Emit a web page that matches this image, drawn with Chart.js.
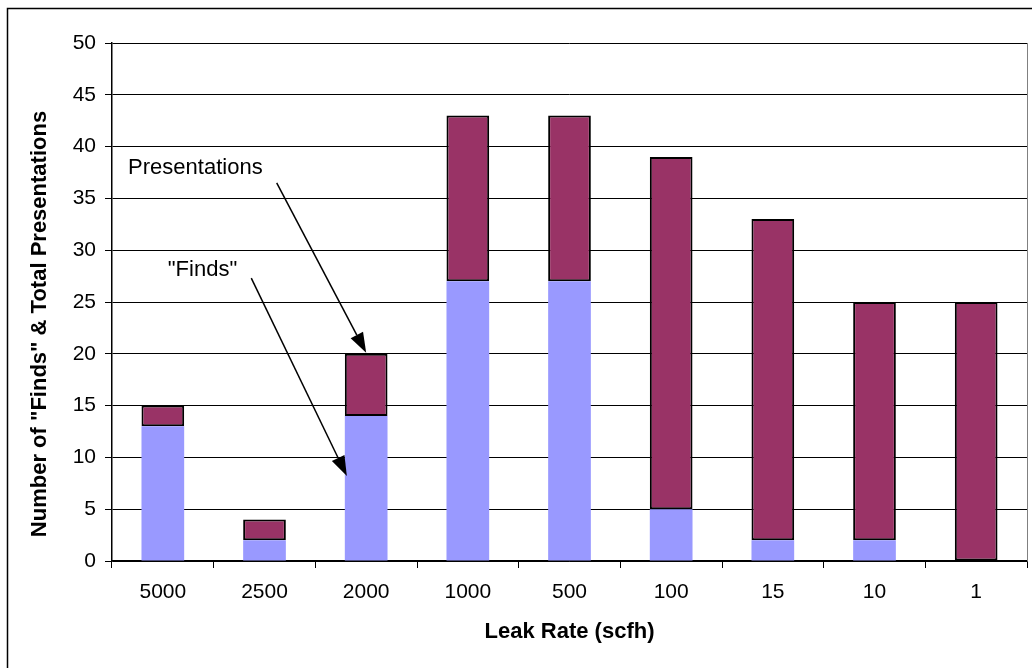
<!DOCTYPE html>
<html>
<head>
<meta charset="utf-8">
<script src="https://cdn.jsdelivr.net/npm/chart.js@4"></script>
<style>
    html, body { margin: 0; padding: 0; background: #fff; }
    #wrap { width: 1032px; height: 668px; position: relative; }
</style>
</head>
<body>
<div id="wrap"><canvas id="leakChart"></canvas></div>
<script>
const leakRates = ['5000', '2500', '2000', '1000', '500', '100', '15', '10', '1'];
const finds = [13, 2, 14, 27, 27, 5, 2, 2, 0];
const totalPresentations = [15, 4, 20, 43, 43, 39, 33, 25, 25];
const yTicks = [0, 5, 10, 15, 20, 25, 30, 35, 40, 45, 50];

// callouts in data units: [label, textX, textY, arrowFromX, arrowFromY, arrowToX, arrowToY]
const calloutPresentations = ['Presentations', 0.32, 37.9, 1.12, 36.5, 2.0, 20.1];
const calloutFinds = ['"Finds"', 0.39, 28.1, 0.87, 27.3, 1.81, 8.2];

const FONT = '"Liberation Sans", Arial, sans-serif';

// maroon part sits on top of the finds
const presentationsOnly = totalPresentations.map((t, i) => t - finds[i]);

function drawArrow(ctx, x1, y1, x2, y2) {
    const ang = Math.atan2(y2 - y1, x2 - x1);
    const headLen = 20, headW = 7;
    const bx = x2 - headLen * Math.cos(ang), by = y2 - headLen * Math.sin(ang);
    ctx.beginPath();
    ctx.moveTo(x1, y1);
    ctx.lineTo(bx, by);
    ctx.stroke();
    ctx.beginPath();
    ctx.moveTo(x2, y2);
    ctx.lineTo(bx + headW * Math.sin(ang), by - headW * Math.cos(ang));
    ctx.lineTo(bx - headW * Math.sin(ang), by + headW * Math.cos(ang));
    ctx.closePath();
    ctx.fill();
}

const decorPlugin = {
    id: 'decor',
    afterDraw(chart) {
        const { ctx, chartArea: a, scales: { x, y } } = chart;
        ctx.save();

        // outer frame (only top and left are inside the picture)
        ctx.strokeStyle = '#000';
        ctx.lineWidth = 1.5;
        ctx.strokeRect(7.5, 8.5, chart.width + 40, chart.height + 40);

        // grey right edge of plot
        ctx.strokeStyle = '#808080';
        ctx.lineWidth = 1;
        ctx.beginPath();
        ctx.moveTo(a.right + 0.5, a.top);
        ctx.lineTo(a.right + 0.5, a.bottom);
        ctx.stroke();

        // axis titles
        ctx.fillStyle = '#000';
        ctx.strokeStyle = '#000';
        ctx.font = `bold 22px ${FONT}`;
        ctx.textAlign = 'center';
        ctx.textBaseline = 'middle';
        ctx.fillText('Leak Rate (scfh)', (a.left + a.right) / 2, 632);
        ctx.save();
        ctx.translate(40, 324);
        ctx.rotate(-Math.PI / 2);
        ctx.fillText('Number of "Finds" & Total Presentations', 0, 0);
        ctx.restore();

        // callouts
        ctx.font = `22px ${FONT}`;
        ctx.lineWidth = 1.5;
        [calloutPresentations, calloutFinds].forEach(c => {
            const [label, tx, ty, fx, fy, toX, toY] = c;
            ctx.fillText(label, x.getPixelForValue(tx), y.getPixelForValue(ty));
            drawArrow(ctx,
                x.getPixelForValue(fx), y.getPixelForValue(fy),
                x.getPixelForValue(toX), y.getPixelForValue(toY));
        });

        ctx.restore();
    }
};

new Chart(document.getElementById('leakChart'), {
    type: 'bar',
    data: {
        labels: leakRates,
        datasets: [
            {
                label: '"Finds"',
                data: finds,
                backgroundColor: '#9999FF',
                borderWidth: 0,
                barPercentage: 0.42,
                categoryPercentage: 1
            },
            {
                label: 'Presentations',
                data: presentationsOnly,
                backgroundColor: '#993366',
                borderColor: '#000',
                borderWidth: 2,
                borderSkipped: false,
                barPercentage: 0.42,
                categoryPercentage: 1
            }
        ]
    },
    options: {
        responsive: true,
        maintainAspectRatio: false,
        animation: false,
        devicePixelRatio: 1,
        layout: { padding: { top: 43, right: 5, left: 0, bottom: 0 } },
        plugins: { legend: { display: false }, tooltip: { enabled: false } },
        scales: {
            x: {
                stacked: true,
                afterFit: s => { s.height = 107; },
                grid: {
                    offset: true,
                    drawOnChartArea: false,
                    drawTicks: true,
                    tickLength: 7,
                    color: '#000'
                },
                border: { color: '#000', width: 1.5 },
                ticks: {
                    color: '#000',
                    padding: 12,
                    font: { family: FONT, size: 21 }
                }
            },
            y: {
                stacked: true,
                min: 0,
                max: 50,
                afterFit: s => { s.width = 112; },
                afterBuildTicks: s => { s.ticks = yTicks.map(v => ({ value: v })); },
                grid: {
                    color: '#000',
                    lineWidth: 1,
                    drawTicks: true,
                    tickLength: 7
                },
                border: { color: '#000', width: 1.5 },
                ticks: {
                    color: '#000',
                    padding: 9,
                    font: { family: FONT, size: 21 }
                }
            }
        }
    },
    plugins: [decorPlugin]
});
</script>
</body>
</html>
